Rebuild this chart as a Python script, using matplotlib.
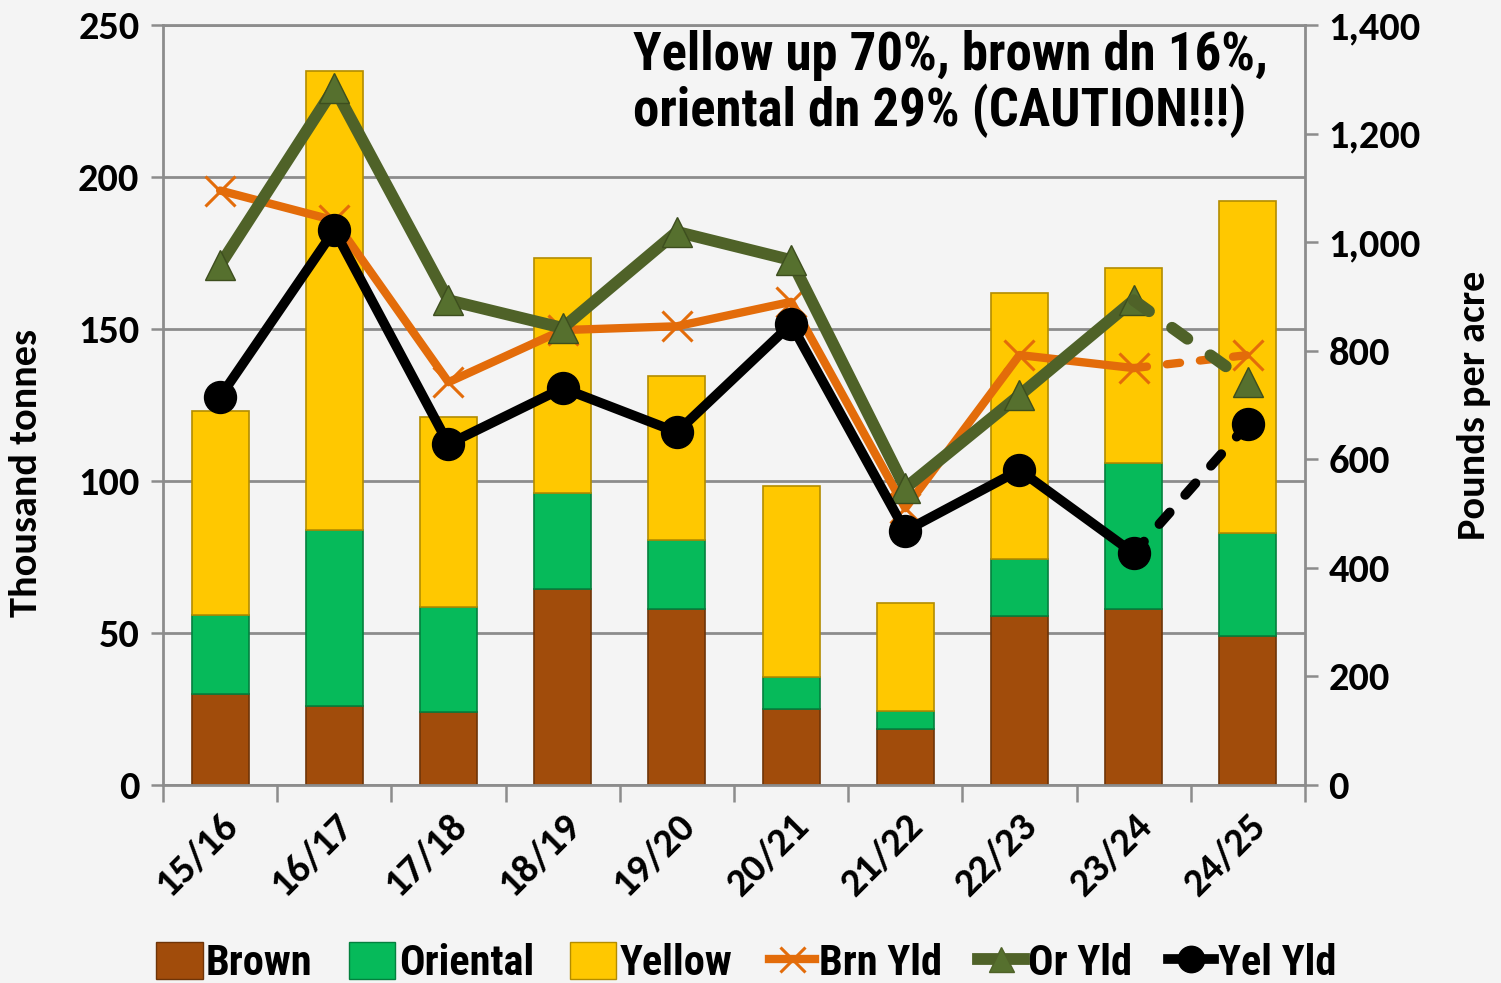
import matplotlib
matplotlib.use("Agg")
import matplotlib.pyplot as plt
import numpy as np
from matplotlib.ticker import FuncFormatter, MultipleLocator
from matplotlib.patches import Patch
from matplotlib.lines import Line2D

AXIS_FONT = ['Carlito', 'Lato', 'DejaVu Sans']
NARROW_FONT = ['Roboto Condensed', 'DejaVu Sans']
plt.rcParams['font.family'] = AXIS_FONT
plt.rcParams['font.weight'] = 'bold'

seasons = ["15/16", "16/17", "17/18", "18/19", "19/20", "20/21", "21/22", "22/23", "23/24", "24/25"]
brown = [30, 26, 24, 64.5, 58, 25, 18.5, 55.5, 58, 49]
oriental = [26, 58, 34.5, 31.5, 22.5, 10.5, 6, 19, 48, 34]
yellow = [67, 151, 62.5, 77.5, 54, 63, 35.5, 87.5, 64, 109]
brn_yld = [1095, 1040, 742, 838, 845, 890, 510, 792, 768, 792]
or_yld = [958, 1284, 893, 842, 1019, 967, 547, 718, 893, 742]
yel_yld = [715, 1022, 628, 731, 650, 849, 468, 580, 427, 665]

c_brown, c_or, c_yel = "#A14C0B", "#06BA5A", "#FFC800"
e_brown, e_or, e_yel = "#6E3408", "#04803E", "#B38C00"
c_brnl, c_orl, c_yell = "#E36C0A", "#4F6228", "#000000"
grid_c = "#8C8C8C"
bg = "#F4F4F4"

fig = plt.figure(figsize=(15.01, 9.83), dpi=100)
fig.patch.set_facecolor(bg)
ax = fig.add_axes([0.1086, 0.2014, 0.7608, 0.7732])
ax.set_facecolor(bg)
x = np.arange(len(seasons))
w = 0.5

b0 = np.zeros(len(x))
for vals, col, ec in [(brown, c_brown, e_brown), (oriental, c_or, e_or), (yellow, c_yel, e_yel)]:
    ax.bar(x, vals, w, bottom=b0, color=col, edgecolor=ec, linewidth=1.2, zorder=2)
    b0 = b0 + np.array(vals)

ax.set_xlim(-0.5, len(x) - 0.5)
ax.set_ylim(0, 250)
ax.yaxis.set_major_locator(MultipleLocator(50))
ax.grid(axis="y", color=grid_c, linewidth=2, zorder=0)
ax.set_axisbelow(True)
ax.set_xticks(np.arange(len(x) + 1) - 0.5)
ax.set_xticklabels([])
ax.set_xticks(x, minor=True)
ax.set_xticklabels(seasons, minor=True, rotation=45, ha="right", va="top",
                   rotation_mode="anchor", fontsize=29, fontweight="bold")
ax.tick_params(axis="x", which="major", length=12, width=1.8, color=grid_c)
ax.tick_params(axis="x", which="minor", length=0, pad=16)
ax.tick_params(axis="y", length=9, width=1.8, color=grid_c, labelsize=29, pad=8)
for s in ax.spines.values():
    s.set_color(grid_c)
    s.set_linewidth(2)
ax.set_ylabel("Thousand tonnes", fontsize=29, fontweight="bold")
ax.yaxis.set_label_coords(-0.105, 0.41)

ax2 = ax.twinx()
ax2.set_ylim(0, 1400)
ax2.yaxis.set_major_locator(MultipleLocator(200))
ax2.yaxis.set_major_formatter(FuncFormatter(lambda v, p: f"{int(v):,}"))
ax2.tick_params(axis="y", length=9, width=1.8, color=grid_c, labelsize=29, pad=8)
for s in ax2.spines.values():
    s.set_visible(False)
ax2.set_ylabel("Pounds per acre", fontsize=29, fontweight="bold")
ax2.yaxis.set_label_coords(1.133, 0.5)

series = [
    (brn_yld, c_brnl, 6, dict(marker="x", markersize=21, markeredgewidth=2.2, markeredgecolor=c_brnl)),
    (or_yld, c_orl, 8.5, dict(marker="^", markersize=21, markerfacecolor="#56702E",
                              markeredgecolor="#3D4E1E", markeredgewidth=1)),
    (yel_yld, c_yell, 7, dict(marker="o", markersize=23, markerfacecolor="#000000", markeredgecolor="#000000")),
]
for vals, col, lw, mk in series:
    ax2.plot(x[:-1], vals[:-1], color=col, linewidth=lw, zorder=3, solid_capstyle="round",
             solid_joinstyle="round", **mk)
    ax2.plot(x[-2:], vals[-2:], color=col, linewidth=lw, linestyle=(0, (1.6, 2.4)), zorder=3,
             dash_capstyle="round")
    ax2.plot(x[-1:], vals[-1:], color=col, linestyle="none", zorder=4, **mk)

fig.text(0.4217, 0.9145, "Yellow up 70%, brown dn 16%,\noriental dn 29% (CAUTION!!!)",
         fontsize=38, fontweight="bold", family=NARROW_FONT, ha="left", va="center", linespacing=1.05)

handles = [
    Patch(facecolor=c_brown, edgecolor=e_brown),
    Patch(facecolor=c_or, edgecolor=e_or),
    Patch(facecolor=c_yel, edgecolor=e_yel),
    Line2D([], [], color=c_brnl, linewidth=6, marker="x", markersize=18, markeredgewidth=2.2),
    Line2D([], [], color=c_orl, linewidth=8.5, marker="^", markersize=18, markerfacecolor="#56702E"),
    Line2D([], [], color=c_yell, linewidth=7, marker="o", markersize=19),
]
labels = ["Brown", "Oriental", "Yellow", "Brn Yld", "Or Yld", "Yel Yld"]
fig.legend(handles, labels, loc="center", bbox_to_anchor=(0.497, 0.02), ncol=6, frameon=False,
           handlelength=1.1, handleheight=0.95, handletextpad=0.08, columnspacing=0.85,
           prop={"weight": "bold", "size": 30.5, "family": NARROW_FONT})

fig.savefig("out.png", dpi=100, facecolor=fig.get_facecolor())
